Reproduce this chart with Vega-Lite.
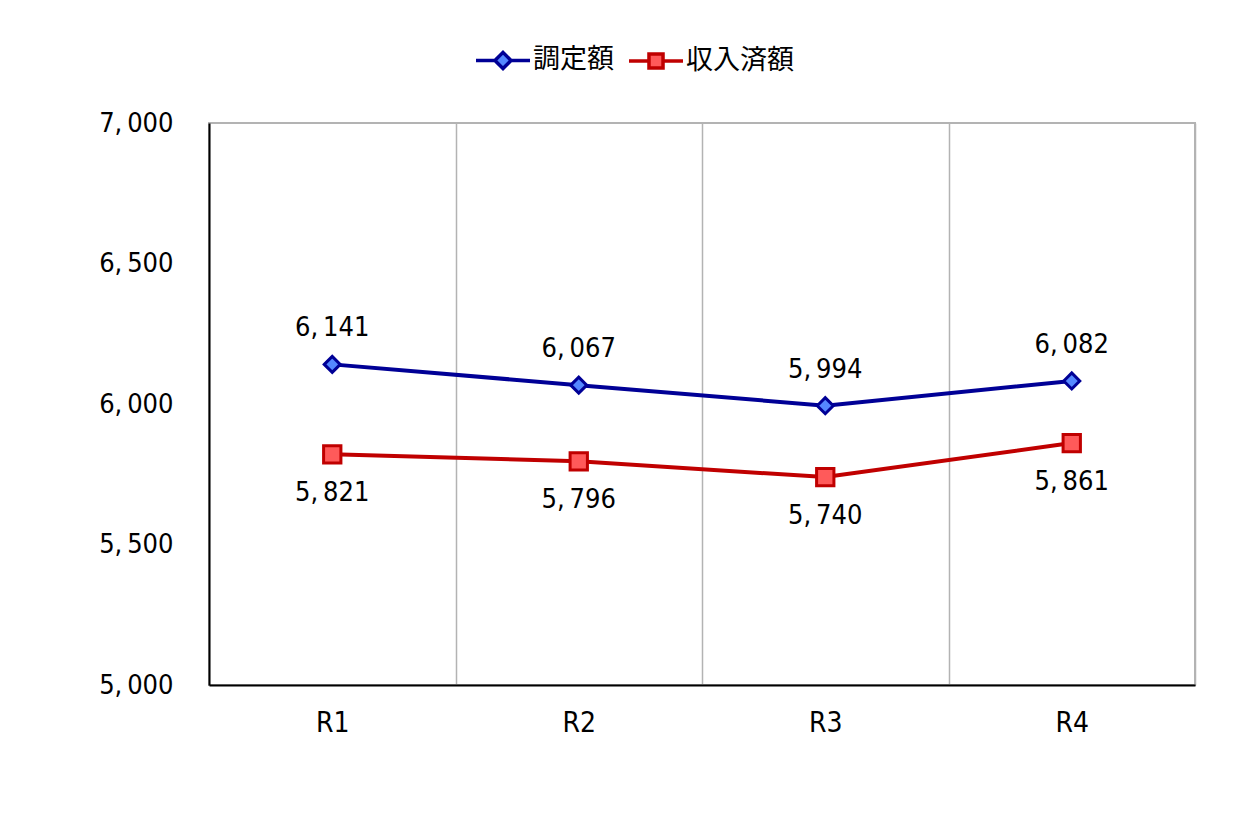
{
  "$schema": "https://vega.github.io/schema/vega-lite/v6.json",
  "width": 986,
  "height": 562,
  "autosize": {"type": "none"},
  "padding": {"left": 209, "top": 123, "right": 55, "bottom": 135},
  "background": "white",
  "data": {
    "values": [
      {"year": "R1", "series": "調定額", "value": 6141},
      {"year": "R2", "series": "調定額", "value": 6067},
      {"year": "R3", "series": "調定額", "value": 5994},
      {"year": "R4", "series": "調定額", "value": 6082},
      {"year": "R1", "series": "収入済額", "value": 5821},
      {"year": "R2", "series": "収入済額", "value": 5796},
      {"year": "R3", "series": "収入済額", "value": 5740},
      {"year": "R4", "series": "収入済額", "value": 5861}
    ]
  },
  "transform": [
    {"calculate": "replace(format(datum.value, ','), ',', ',\u2009')", "as": "label"}
  ],
  "encoding": {
    "x": {
      "field": "year",
      "type": "nominal",
      "title": null,
      "scale": {"paddingInner": 0, "paddingOuter": 0},
      "axis": {
        "tickBand": "extent",
        "labelAngle": 0,
        "labelFont": "DejaVu Sans Condensed, sans-serif",
        "labelFontSize": 28,
        "labelColor": "#000000",
        "labelPadding": 24,
        "ticks": false,
        "tickSize": 0,
        "grid": true,
        "gridColor": "#b3b3b3",
        "gridWidth": 1.5,
        "domainColor": "#000000",
        "domainWidth": 2
      }
    },
    "y": {
      "field": "value",
      "type": "quantitative",
      "title": null,
      "scale": {"domain": [5000, 7000], "nice": false, "zero": false},
      "axis": {
        "values": [5000, 5500, 6000, 6500, 7000],
        "labelExpr": "replace(format(datum.value, ','), ',', ',\u2009')",
        "labelFont": "DejaVu Sans Condensed, sans-serif",
        "labelFontSize": 27,
        "labelColor": "#000000",
        "labelPadding": 36,
        "ticks": false,
        "tickSize": 0,
        "grid": false,
        "domainColor": "#000000",
        "domainWidth": 2
      }
    }
  },
  "layer": [
    {
      "mark": {"type": "line", "strokeWidth": 4},
      "encoding": {
        "stroke": {
          "field": "series",
          "type": "nominal",
          "scale": {"domain": ["調定額", "収入済額"], "range": ["#000096", "#c00000"]},
          "legend": {
            "orient": "none",
            "legendX": 265,
            "legendY": -92,
            "direction": "horizontal",
            "title": null,
            "labelFont": "Noto Sans CJK JP",
            "labelFontSize": 27,
            "labelColor": "#000000",
            "labelOffset": 1,
            "columnPadding": 8,
            "symbolSize": 2916,
            "encode": {
              "symbols": {
                "update": {
                  "shape": {"signal": "datum.value === '調定額' ? 'M-1,0H-0.3M0.3,0H1M-0.3,0L0,-0.3L0.3,0L0,0.3Z' : 'M-1,0H-0.26M0.26,0H1M-0.26,-0.26H0.26V0.26H-0.26Z'"},
                  "fill": {"signal": "datum.value === '調定額' ? '#5588ff' : '#ff5a5a'"},
                  "stroke": {"signal": "datum.value === '調定額' ? '#000096' : '#c00000'"},
                  "strokeWidth": {"value": 3.5},
                  "opacity": {"value": 1}
                }
              }
            }
          }
        }
      }
    },
    {
      "transform": [{"filter": "datum.series === '調定額'"}],
      "mark": {"type": "point", "shape": "diamond", "size": 256, "filled": true, "fill": "#5588ff", "stroke": "#000096", "strokeWidth": 3, "opacity": 1}
    },
    {
      "transform": [{"filter": "datum.series === '収入済額'"}],
      "mark": {"type": "point", "shape": "square", "size": 300, "filled": true, "fill": "#ff5a5a", "stroke": "#c00000", "strokeWidth": 3, "opacity": 1}
    },
    {
      "transform": [{"filter": "datum.series === '調定額'"}],
      "mark": {"type": "text", "dy": -36, "font": "DejaVu Sans Condensed, sans-serif", "fontSize": 27, "color": "#000000"},
      "encoding": {"text": {"field": "label"}}
    },
    {
      "transform": [{"filter": "datum.series === '収入済額'"}],
      "mark": {"type": "text", "dy": 39, "font": "DejaVu Sans Condensed, sans-serif", "fontSize": 27, "color": "#000000"},
      "encoding": {"text": {"field": "label"}}
    }
  ],
  "config": {
    "view": {"stroke": "#b3b3b3", "strokeWidth": 2}
  }
}
